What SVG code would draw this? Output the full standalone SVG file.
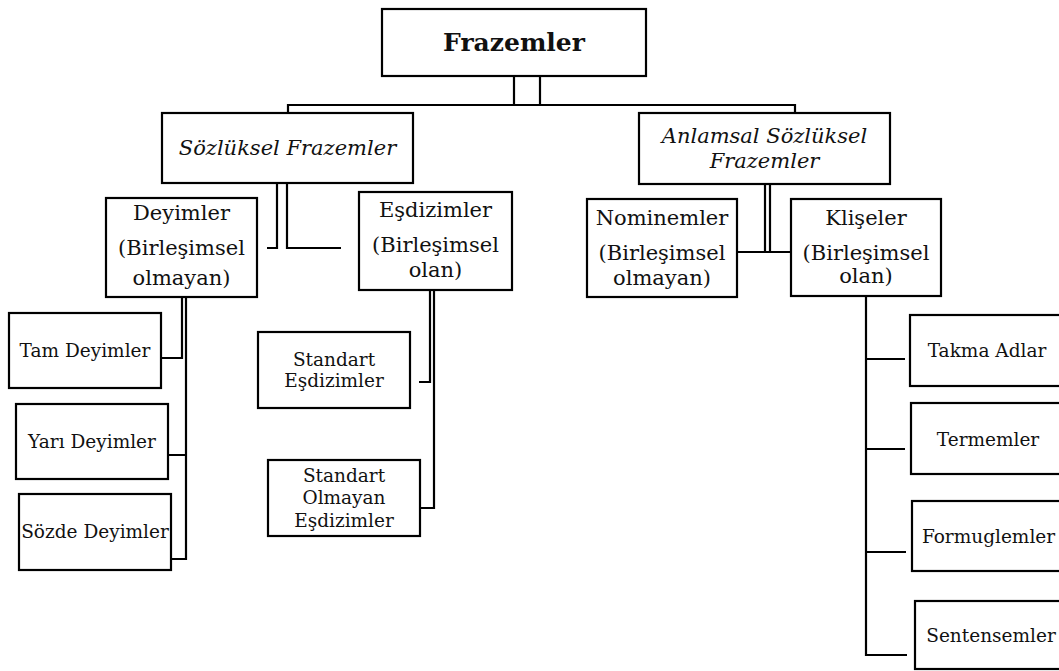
<svg xmlns="http://www.w3.org/2000/svg" width="1059" height="671" viewBox="0 0 1059 671">
<style>
.box{fill:#fff;stroke:#000;stroke-width:2.2}
.ln{fill:none;stroke:#000;stroke-width:2.2}
text{font-family:"DejaVu Serif","Liberation Serif",serif;fill:#111;text-anchor:middle}
.t0{font-size:25px;font-weight:bold}
.t1{font-size:21px}
.it{font-style:italic}
.t2{font-size:18.5px}
</style>
<rect width="1059" height="671" fill="#fff"/>
<g id="connectors">
<path class="ln" d="M514 76V105M540 76V105M288 113V105H795V113"/>
<path class="ln" d="M277 183V248H267M287 183V248H341"/>
<path class="ln" d="M182 297V358H162M186 297V559H172M186 455H168"/>
<path class="ln" d="M430 290V382H419M434 290V508H420"/>
<path class="ln" d="M765 184V252M770 184V252M737 252H791"/>
<path class="ln" d="M866 296V655H907M866 359H905M866 449H905M866 552H906"/>
</g>
<g id="frazemler"><rect class="box" x="382" y="9" width="264" height="67"/><text class="t0" x="514" y="51">Frazemler</text></g>
<g id="sozluksel"><rect class="box" x="162" y="113" width="251" height="70"/><text class="t1 it" x="287.5" y="155">Sözlüksel Frazemler</text></g>
<g id="anlamsal"><rect class="box" x="639" y="113" width="251" height="71"/><text class="t1 it" x="764.5" y="143">Anlamsal Sözlüksel</text><text class="t1 it" x="764.5" y="168">Frazemler</text></g>
<g id="deyimler"><rect class="box" x="106" y="198" width="151" height="99"/><text class="t1" x="181.5" y="220">Deyimler</text><text class="t1" x="181.5" y="255">(Birleşimsel</text><text class="t1" x="181.5" y="285">olmayan)</text></g>
<g id="esdizimler"><rect class="box" x="359" y="192" width="153" height="98"/><text class="t1" x="435.5" y="217">Eşdizimler</text><text class="t1" x="435.5" y="252">(Birleşimsel</text><text class="t1" x="435.5" y="277">olan)</text></g>
<g id="nominemler"><rect class="box" x="587" y="199" width="150" height="98"/><text class="t1" x="662" y="225">Nominemler</text><text class="t1" x="662" y="260">(Birleşimsel</text><text class="t1" x="662" y="285">olmayan)</text></g>
<g id="kliseler"><rect class="box" x="791" y="199" width="150" height="97"/><text class="t1" x="866" y="225">Klişeler</text><text class="t1" x="866" y="260">(Birleşimsel</text><text class="t1" x="866" y="283">olan)</text></g>
<g id="tam"><rect class="box" x="9" y="313" width="152" height="75"/><text class="t2" x="85" y="357">Tam Deyimler</text></g>
<g id="yari"><rect class="box" x="16" y="404" width="152" height="75"/><text class="t2" x="92" y="448">Yarı Deyimler</text></g>
<g id="sozde"><rect class="box" x="19" y="494" width="152" height="76"/><text class="t2" x="95" y="538">Sözde Deyimler</text></g>
<g id="standart"><rect class="box" x="258" y="332" width="152" height="76"/><text class="t2" x="334" y="366">Standart</text><text class="t2" x="334" y="387">Eşdizimler</text></g>
<g id="standart-olmayan"><rect class="box" x="268" y="460" width="152" height="76"/><text class="t2" x="344" y="482">Standart</text><text class="t2" x="344" y="504">Olmayan</text><text class="t2" x="344" y="527">Eşdizimler</text></g>
<g id="takma"><rect class="box" x="910" y="315" width="160" height="71"/><text class="t2" x="987" y="357">Takma Adlar</text></g>
<g id="termemler"><rect class="box" x="911" y="403" width="160" height="71"/><text class="t2" x="988" y="446">Termemler</text></g>
<g id="formuglemler"><rect class="box" x="912" y="501" width="160" height="70"/><text class="t2" x="988.5" y="543">Formuglemler</text></g>
<g id="sentensemler"><rect class="box" x="915" y="601" width="160" height="68"/><text class="t2" x="991" y="642">Sentensemler</text></g>
</svg>
